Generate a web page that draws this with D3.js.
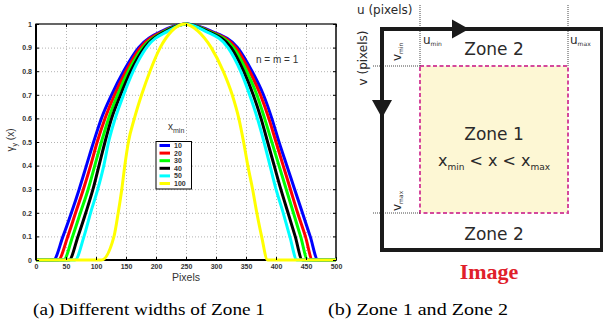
<!DOCTYPE html>
<html>
<head>
<meta charset="UTF-8" />
<script src="https://cdnjs.cloudflare.com/ajax/libs/d3/7.8.5/d3.min.js"></script>
<style>
  body { margin: 0; background: #fff; }
  svg { display: block; }
  .grid line { stroke: #b4b4b4; stroke-dasharray: 1, 2; }
  .grid path, .ax path { display: none; }
  .ax line { stroke: #000; }
  .ax text { font-family: "Liberation Sans", Arial, sans-serif; font-size: 7px; font-weight: bold; fill: #333; }
  .lbl { font-family: "Liberation Sans", Arial, sans-serif; fill: #333; }
  .dg { font-family: "DejaVu Sans", sans-serif; fill: #2a2a2a; }
  .cap { font-family: "Liberation Serif", "Times New Roman", serif; font-size: 17px; fill: #000; }
</style>
</head>
<body>
<svg id="fig" width="603" height="324"></svg>
<script>
// curve data: x (pixels) where each curve crosses each level
const levels = [0, 0.1, 0.2, 0.3, 0.4, 0.5, 0.6, 0.7, 0.8, 0.9, 0.97];
const xminValues = ["10", "20", "30", "40", "50", "100"];
const colors = ["#0000ff", "#ff0000", "#00ff00", "#000000", "#00ffff", "#ffff00"];
const rise = [
  [29, 45, 59, 72, 84, 96, 109, 126, 146, 171, 210],
  [37, 53, 66, 79, 91, 102, 115, 131, 150, 174, 213],
  [46, 61, 74, 87, 98, 109, 121, 136, 154, 178, 215],
  [55, 70, 83, 95, 105, 115, 126, 141, 158, 181, 217],
  [65, 80, 91, 103, 113, 121, 132, 146, 162, 184, 220],
  [109, 130, 137, 143, 148, 154, 164, 176, 190, 207, 226]
];
const fall = [
  [470, 457, 444, 431, 418, 405, 393, 379, 360, 336, 292],
  [461, 449, 436, 424, 412, 400, 388, 374, 356, 333, 289],
  [453, 441, 429, 417, 405, 393, 381, 368, 351, 329, 287],
  [444, 432, 420, 408, 397, 386, 375, 362, 346, 325, 285],
  [435, 423, 412, 400, 390, 380, 369, 356, 341, 320, 282],
  [386, 376, 368, 361, 353, 346, 338, 327, 312, 292, 270]
];
const peakX = [250, 250, 250, 250, 250, 248];
const xTicks = [0, 50, 100, 150, 200, 250, 300, 350, 400, 450, 500];
const yTicks = [0, 0.1, 0.2, 0.3, 0.4, 0.5, 0.6, 0.7, 0.8, 0.9, 1];
const yTickLabels = ["0", "0.1", "0.2", "0.3", "0.4", "0.5", "0.6", "0.7", "0.8", "0.9", "1"];

const svg = d3.select("#fig");

// ---------- (a) plot ----------
const L = 36, R = 336, T = 24, B = 260;
const x = d3.scaleLinear().domain([0, 500]).range([L, R]);
const y = d3.scaleLinear().domain([0, 1]).range([B, T]);

const inner = xTicks.slice(1, -1), innerY = yTicks.slice(1, -1);
svg.append("g").attr("class", "grid").attr("transform", `translate(0,${B})`)
  .call(d3.axisBottom(x).tickValues(inner).tickSize(-(B - T)).tickFormat(""));
svg.append("g").attr("class", "grid").attr("transform", `translate(${L},0)`)
  .call(d3.axisLeft(y).tickValues(innerY).tickSize(-(R - L)).tickFormat(""));

svg.append("rect").attr("x", L).attr("y", T).attr("width", R - L).attr("height", B - T)
  .attr("fill", "none").attr("stroke", "#000").attr("stroke-width", 1.2);
svg.append("line").attr("x1", R).attr("x2", R).attr("y1", T).attr("y2", B + 1)
  .attr("stroke", "#444").attr("stroke-width", 2);
svg.append("line").attr("x1", L).attr("x2", R).attr("y1", B).attr("y2", B)
  .attr("stroke", "#000").attr("stroke-width", 2.2);
svg.append("line").attr("x1", L).attr("x2", L).attr("y1", T).attr("y2", B)
  .attr("stroke", "#000").attr("stroke-width", 2);

const line = d3.line().x(d => x(d[0])).y(d => y(d[1])).curve(d3.curveMonotoneX);
const series = xminValues.map((k, s) => {
  const up = levels.map((l, i) => [rise[s][i], l]);
  const down = levels.map((l, i) => [fall[s][i], l]).reverse();
  return [[0, 0], ...up, [peakX[s], 1], ...down, [500, 0]];
});
svg.append("g").selectAll("path").data(series).join("path")
  .attr("d", line).attr("fill", "none")
  .attr("stroke", (d, i) => colors[i]).attr("stroke-width", 3);

svg.append("g").attr("class", "ax").attr("transform", `translate(0,${B})`)
  .call(d3.axisBottom(x).tickValues(xTicks).tickSize(-3).tickSizeOuter(0).tickPadding(4));
svg.append("g").attr("class", "ax").attr("transform", `translate(${L},0)`)
  .call(d3.axisLeft(y).tickValues(yTicks).tickSize(-3).tickSizeOuter(0).tickPadding(4)
    .tickFormat((d, i) => yTickLabels[i]));
svg.append("g").attr("class", "ax").attr("transform", `translate(0,${T})`)
  .call(d3.axisTop(x).tickValues(xTicks).tickSize(-3).tickSizeOuter(0).tickFormat(""));
svg.append("g").attr("class", "ax").attr("transform", `translate(${R},0)`)
  .call(d3.axisRight(y).tickValues(yTicks).tickSize(-3).tickSizeOuter(0).tickFormat(""));

svg.append("text").attr("class", "lbl").attr("x", 186).attr("y", 281)
  .attr("text-anchor", "middle").attr("font-size", 10.5).text("Pixels");
const yl = svg.append("text").attr("class", "lbl").attr("font-size", 10)
  .attr("transform", "translate(14,140) rotate(-90)").attr("text-anchor", "middle");
yl.append("tspan").text("γ");
yl.append("tspan").attr("font-size", 7).attr("dy", 3).text("y");
yl.append("tspan").attr("dy", -3).text(" (x)");

svg.append("text").attr("class", "lbl").attr("x", 256).attr("y", 63)
  .attr("font-size", 10).text("n = m = 1");

// legend
const lt = svg.append("text").attr("class", "lbl").attr("x", 168).attr("y", 130).attr("font-size", 10);
lt.append("tspan").text("x");
lt.append("tspan").attr("font-size", 7).attr("dy", 3).text("min");
svg.append("rect").attr("x", 156).attr("y", 141.5).attr("width", 35.5).attr("height", 47.5)
  .attr("fill", "#fff").attr("stroke", "#000").attr("stroke-width", 1);
const lg = svg.append("g").selectAll("g").data(xminValues).join("g")
  .attr("transform", (d, i) => `translate(0,${145.5 + i * 7.6})`);
lg.append("line").attr("x1", 159.5).attr("x2", 170).attr("stroke", (d, i) => colors[i]).attr("stroke-width", 3);
lg.append("text").attr("class", "lbl").attr("x", 174).attr("dy", 2.5)
  .attr("font-size", 7).attr("font-weight", "bold").text(d => d);

// ---------- (b) diagram ----------
const D = { left: 382, top: 29, right: 602, bottom: 250, umin: 420, umax: 568, vmin: 66, vmax: 213 };
const cx = (D.umin + D.umax) / 2;

svg.append("rect").attr("x", D.umin).attr("y", D.vmin)
  .attr("width", D.umax - D.umin).attr("height", D.vmax - D.vmin)
  .attr("fill", "#fdf7d4").attr("stroke", "#d4489c").attr("stroke-width", 2)
  .attr("stroke-dasharray", "4,2.5");

const dot = (x1, y1, x2, y2) => svg.append("line").attr("x1", x1).attr("y1", y1)
  .attr("x2", x2).attr("y2", y2).attr("stroke", "#333").attr("stroke-width", 0.9)
  .attr("stroke-dasharray", "1,1");
dot(D.umin, 5, D.umin, D.vmin);
dot(D.umax, 5, D.umax, D.vmin);
dot(373, D.vmin, D.umin, D.vmin);
dot(373, D.vmax, D.umin, D.vmax);

svg.append("path").attr("fill", "none").attr("stroke", "#1a1a1a").attr("stroke-width", 4)
  .attr("d", `M${D.right},${D.top}H${D.left}V${D.bottom}H${D.right}Z`);
svg.append("path").attr("fill", "#1a1a1a").attr("d", "M452,19.5L469,29L452,38.5Z");
svg.append("path").attr("fill", "#1a1a1a").attr("d", "M372,100L392,100L382,118Z");

svg.append("text").attr("class", "dg").attr("x", 357).attr("y", 14).attr("font-size", 12).text("u (pixels)");
svg.append("text").attr("class", "dg").attr("font-size", 12).attr("text-anchor", "middle")
  .attr("transform", "translate(367,58) rotate(-90)").text("v (pixels)");

function sub(x0, y0, main, s, size, rot) {
  const t = svg.append("text").attr("class", "dg").attr("font-size", size)
    .attr("transform", `translate(${x0},${y0})` + (rot ? " rotate(-90)" : ""));
  t.append("tspan").text(main);
  t.append("tspan").attr("font-size", size * 0.5).attr("dy", size * 0.2).text(s);
  return t;
}
sub(423, 44, "u", "min", 12, false);
sub(570, 44, "u", "max", 12, false);
sub(401, 61, "v", "min", 12, true);
sub(401, 211, "v", "max", 12, true);

svg.append("text").attr("class", "dg").attr("x", cx).attr("y", 55).attr("font-size", 17)
  .attr("text-anchor", "middle").text("Zone 2");
svg.append("text").attr("class", "dg").attr("x", cx).attr("y", 140).attr("font-size", 17)
  .attr("text-anchor", "middle").text("Zone 1");
const f = svg.append("text").attr("class", "dg").attr("x", cx).attr("y", 166).attr("font-size", 16)
  .attr("text-anchor", "middle");
f.append("tspan").text("x");
f.append("tspan").attr("font-size", 9).attr("dy", 4).text("min");
f.append("tspan").attr("dy", -4).text(" < x < x");
f.append("tspan").attr("font-size", 9).attr("dy", 4).text("max");
svg.append("text").attr("class", "dg").attr("x", cx).attr("y", 240).attr("font-size", 17)
  .attr("text-anchor", "middle").text("Zone 2");

svg.append("text").attr("x", 489).attr("y", 279).attr("text-anchor", "middle")
  .attr("font-family", "Liberation Serif, serif").attr("font-weight", "bold")
  .attr("font-size", 22).attr("fill", "#e0202a").text("Image");

// captions
svg.append("text").attr("class", "cap").attr("x", 149).attr("y", 315).attr("text-anchor", "middle")
  .attr("textLength", 232).attr("lengthAdjust", "spacingAndGlyphs")
  .text("(a) Different widths of Zone 1");
svg.append("text").attr("class", "cap").attr("x", 418).attr("y", 315).attr("text-anchor", "middle")
  .attr("textLength", 180).attr("lengthAdjust", "spacingAndGlyphs")
  .text("(b) Zone 1 and Zone 2");
</script>
</body>
</html>
